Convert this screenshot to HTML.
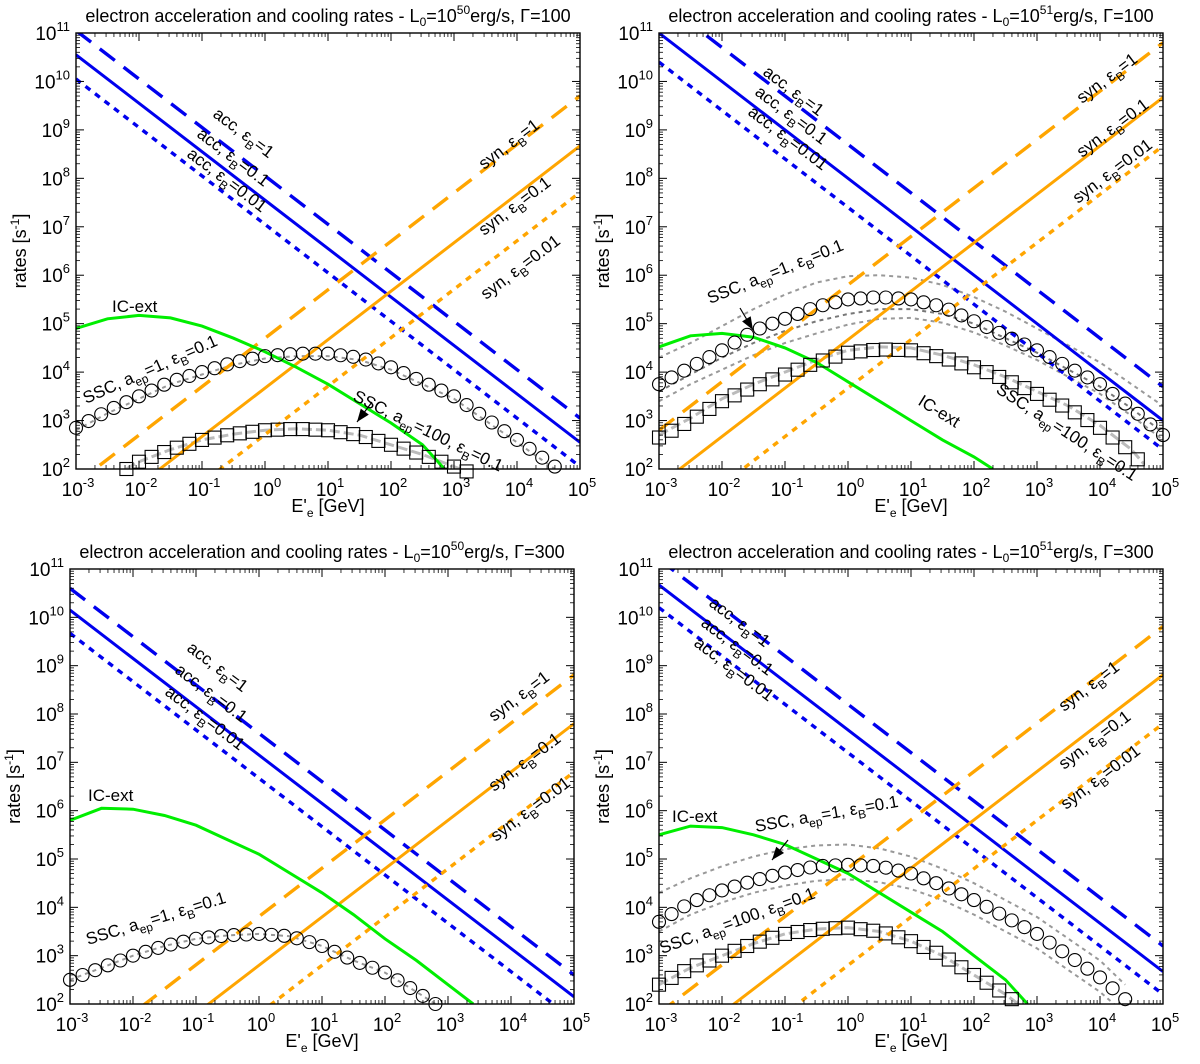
<!DOCTYPE html>
<html><head><meta charset="utf-8"><style>
body{margin:0;background:#fff;overflow:hidden}
svg{display:block;font-family:"Liberation Sans",sans-serif}
</style></head><body>
<svg id="fig" width="1200" height="1064" viewBox="0 0 1200 1064" xmlns="http://www.w3.org/2000/svg"></svg>
<script>
// ---------- DATA (log10 values) ----------
const xTickExps = [-3,-2,-1,0,1,2,3,4,5];
const yTickExps = [2,3,4,5,6,7,8,9,10,11];
// acceleration lines: log10 rate at E=1e-3 and E=1e5 GeV [eB=1, 0.1, 0.01]
const A_accLo=[11.05,10.55,10.05], A_accHi=[3.05,2.55,2.05];
const B_accLo=[11.7,11.0,10.4],  B_accHi=[3.7,3.0,2.4];
const C_accLo=[10.6,10.15,9.67], C_accHi=[2.6,2.15,1.67];
const D_accLo=[11.2,10.67,10.2], D_accHi=[3.2,2.67,2.2];
// synchrotron lines
const A_synLo=[1.7,0.67,-0.29], A_synHi=[9.7,8.67,7.71];
const B_synLo=[2.8,1.67,0.67],  B_synHi=[10.8,9.67,8.67];
const C_synLo=[0.81,-0.2,-1.2], C_synHi=[8.81,7.8,6.8];
const D_synLo=[1.81,0.81,-0.2], D_synHi=[9.81,8.81,7.8];
// IC-ext curves
const A_icE=[-3,-2.5,-2,-1.5,-1,-0.5,0,0.5,1,1.5,2,2.5,2.85];
const A_icR=[4.9,5.1,5.17,5.12,4.95,4.7,4.42,4.1,3.75,3.35,2.95,2.5,2.0];
const B_icE=[-3,-2.5,-2,-1.5,-1,-0.5,0,0.5,1,1.5,2,2.3];
const B_icR=[4.52,4.75,4.8,4.72,4.5,4.2,3.8,3.4,3.0,2.6,2.25,2.0];
const C_icE=[-3,-2.5,-2,-1.5,-1,-0.5,0,0.5,1,1.5,2,2.5,3,3.4];
const C_icR=[5.8,6.05,6.03,5.9,5.7,5.4,5.1,4.7,4.3,3.85,3.35,2.9,2.4,2.0];
const D_icE=[-3,-2.5,-2,-1.5,-1,-0.5,0,0.5,1,1.5,2,2.5,2.85];
const D_icR=[5.5,5.68,5.65,5.5,5.3,5.0,4.7,4.3,3.9,3.5,3.0,2.5,2.0];
// SSC a_ep=1 (circles)
const A_c1E=[-3,-2.5,-2,-1.5,-1,-0.5,0,0.5,1,1.5,2,2.5,3,3.5,4,4.6];
const A_c1R=[2.85,3.2,3.5,3.8,4.0,4.2,4.33,4.38,4.38,4.3,4.1,3.8,3.5,3.05,2.6,2.05];
const B_c1E=[-3,-2.5,-2,-1.5,-1,-0.5,0,0.5,1,1.5,2,2.5,3,3.5,4,4.5,5];
const B_c1R=[3.75,4.1,4.45,4.85,5.1,5.35,5.5,5.55,5.5,5.35,5.05,4.75,4.45,4.1,3.75,3.25,2.7];
const C_c1E=[-3,-2.5,-2,-1.5,-1,-0.5,0,0.5,1,1.5,2,2.5,2.8];
const C_c1R=[2.5,2.75,3.0,3.2,3.35,3.42,3.45,3.4,3.2,2.9,2.65,2.25,2.0];
const D_c1E=[-3,-2.5,-2,-1.5,-1,-0.5,0,0.5,1,1.5,2,2.5,3,3.5,4,4.4];
const D_c1R=[3.7,4.1,4.35,4.55,4.72,4.85,4.88,4.85,4.7,4.45,4.15,3.8,3.45,3.0,2.55,2.1];
// SSC a_ep=100 (squares)
const A_c2E=[-2.2,-2,-1.5,-1,-0.5,0,0.5,1,1.5,2,2.5,3,3.3];
const A_c2R=[2.0,2.15,2.4,2.6,2.72,2.8,2.83,2.8,2.7,2.5,2.3,2.05,1.9];
const B_c2E=[-3,-2.5,-2,-1.5,-1,-0.5,0,0.5,1,1.5,2,2.5,3,3.5,4,4.5,4.7];
const B_c2R=[2.65,3.0,3.4,3.7,3.95,4.2,4.4,4.47,4.45,4.3,4.1,3.85,3.55,3.25,2.85,2.35,2.05];
const D_c2E=[-3,-2.5,-2,-1.5,-1,-0.5,0,0.5,1,1.5,2,2.5,2.7];
const D_c2R=[2.4,2.75,3.0,3.25,3.45,3.55,3.58,3.5,3.3,3.0,2.6,2.2,2.0];
// gray dotted model curves
const B_g1R=[4.3,4.6,4.95,5.3,5.6,5.85,5.98,6.0,5.95,5.8,5.55,5.25,4.9,4.55,4.2,3.75,3.3];
const B_g2R=[3.6,3.95,4.3,4.6,4.85,5.05,5.2,5.3,5.3,5.2,5.0,4.7,4.4,4.05,3.7,3.25,2.75];
const B_g3R=[3.4,3.75,4.05,4.35,4.6,4.8,4.98,5.1,5.12,5.02,4.82,4.55,4.25,3.9,3.55,3.1,2.6];
const D_g1R=[4.3,4.6,4.85,5.05,5.2,5.28,5.3,5.22,5.05,4.8,4.5,4.15,3.8,3.35,2.9,2.4];
const D_g2R=[3.5,3.85,4.1,4.3,4.45,4.55,4.58,4.52,4.38,4.15,3.85,3.5,3.15,2.7,2.25,1.8];

// ---------- DRAWING ----------
const NS="http://www.w3.org/2000/svg";
const svg=document.getElementById('fig');
function el(tag,attrs,parent){const e=document.createElementNS(NS,tag);for(const k in attrs)e.setAttribute(k,attrs[k]);(parent||svg).appendChild(e);return e;}
const BLUE="#0000ee",ORANGE="#ffa500",GREEN="#00ee00";
const STY=[{w:3.4,d:"19,11"},{w:3,d:""},{w:3.4,d:"6,6"}];

function makePanel(id,L,R,T,B,title){
  const g=el('g',{});
  
  
  const sx=v=>L+(v+3)/8*(R-L);
  const sy=v=>B-(v-2)/9*(B-T);
  const clip=el('clipPath',{id:'clip-'+id},g);
  el('rect',{x:L,y:T,width:R-L,height:B-T},clip);
  const plot=el('g',{'clip-path':'url(#clip-'+id+')'},g);
  const t=el('text',{x:(L+R)/2,y:T-11,'text-anchor':'middle','font-size':18,fill:'#000'},g);
  t.innerHTML=title;
  
  
  return {g,plot,sx,sy,L,R,T,B};
}
function axes(p){
  const {g,sx,sy,L,R,T,B}=p;
  el('rect',{x:L,y:T,width:R-L,height:B-T,fill:'none',stroke:'#000','stroke-width':1.4},g);
  xTickExps.forEach((e,i)=>{
    const x=sx(e);
    el('line',{x1:x,y1:B,x2:x,y2:B-8,stroke:'#000','stroke-width':1},g);
    el('line',{x1:x,y1:T,x2:x,y2:T+8,stroke:'#000','stroke-width':1},g);
    if(i<xTickExps.length-1)for(let m=2;m<10;m++){const xm=sx(e+Math.log10(m));
      el('line',{x1:xm,y1:B,x2:xm,y2:B-4,stroke:'#000','stroke-width':0.8},g);
      el('line',{x1:xm,y1:T,x2:xm,y2:T+4,stroke:'#000','stroke-width':0.8},g);}
    const lab=el('text',{x:x+2,y:B+27,'text-anchor':'middle','font-size':19},g);
    lab.innerHTML='10<tspan dy="-9" font-size="13">'+e+'</tspan>';
    
    
  });
  yTickExps.forEach((e,i)=>{
    const y=sy(e);
    el('line',{x1:L,y1:y,x2:L+8,y2:y,stroke:'#000','stroke-width':1},g);
    el('line',{x1:R,y1:y,x2:R-8,y2:y,stroke:'#000','stroke-width':1},g);
    if(i<yTickExps.length-1)for(let m=2;m<10;m++){const ym=sy(e+Math.log10(m));
      el('line',{x1:L,y1:ym,x2:L+4,y2:ym,stroke:'#000','stroke-width':0.8},g);
      el('line',{x1:R,y1:ym,x2:R-4,y2:ym,stroke:'#000','stroke-width':0.8},g);}
    const lab=el('text',{x:L-6,y:y+7,'text-anchor':'end','font-size':19},g);
    lab.innerHTML='10<tspan dy="-9" font-size="13">'+e+'</tspan>';
    
    
  });
  const xl=el('text',{x:(L+R)/2,y:B+43,'text-anchor':'middle','font-size':18},g);
  xl.innerHTML="E'<tspan dy='5' font-size='12'>e</tspan><tspan dy='-5'> [GeV]</tspan>";
  
  
  const cy=(T+B)/2, cx=L-50;
  const yl=el('text',{x:cx,y:cy,'text-anchor':'middle','font-size':18,transform:'rotate(-90 '+cx+' '+cy+')'},g);
  yl.innerHTML="rates [s<tspan dy='-7' font-size='12'>-1</tspan><tspan dy='7'>]</tspan>";
  
  
}
function powerLines(p,lo,hi,color,name){
  lo.forEach((v,i)=>{
    const ln=el('line',{x1:p.sx(-3),y1:p.sy(v),x2:p.sx(5),y2:p.sy(hi[i]),stroke:color,'stroke-width':STY[i].w,'stroke-dasharray':STY[i].d},p.plot);
    
    
  });
}
function curve(p,xs,ys,attrs,name){
  const d=xs.map((x,i)=>(i?'L':'M')+p.sx(x).toFixed(1)+','+p.sy(ys[i]).toFixed(1)).join('');
  const a=Object.assign({d:d,fill:'none'},attrs);
  const c=el('path',a,p.plot);
  
  
}
function interp(xs,ys,x){for(let i=0;i<xs.length-1;i++){if(x>=xs[i]-1e-9&&x<=xs[i+1]+1e-9){const f=(x-xs[i])/(xs[i+1]-xs[i]);return ys[i]+f*(ys[i+1]-ys[i]);}}return null;}
function markers(p,xs,ys,shape,name){
  for(let k=0;k<=45;k++){const x=-3+k*0.2; if(x<xs[0]-1e-9||x>xs[xs.length-1]+1e-9)continue;
    const y=interp(xs,ys,x); const X=p.sx(x),Y=p.sy(y);
    let m;
    if(shape==='o'){m=el('circle',{cx:X,cy:Y,r:6.5,fill:'none',stroke:'#000','stroke-width':1.1},p.g);}
    else{m=el('rect',{x:X-6.5,y:Y-6.5,width:13,height:13,fill:'none',stroke:'#000','stroke-width':1.1},p.g);}
    
    
  }
}
function label(p,x,y,rot,html,name){
  const t=el('text',{x:x,y:y,'font-size':17,transform:'rotate('+rot+' '+x+' '+y+')'},p.g);
  t.innerHTML=html;
  
  
}
function arrow(p,x1,y1,x2,y2){
  const a=el('line',{x1:x1,y1:y1,x2:x2,y2:y2,stroke:'#000','stroke-width':1.2},p.g);
  
  
  const ang=Math.atan2(y2-y1,x2-x1),L=13,W=5;
  const bx=x2-L*Math.cos(ang),by=y2-L*Math.sin(ang);
  const px=-Math.sin(ang)*W,py=Math.cos(ang)*W;
  el('polygon',{points:`${x2},${y2} ${bx+px},${by+py} ${bx-px},${by-py}`,fill:'#000'},p.g);
}
const eB=v=>`, ε<tspan dy="5" font-size="12">B</tspan><tspan dy="-5">=${v}</tspan>`;
const accL=v=>'acc'+eB(v), synL=v=>'syn'+eB(v);
const sscL=(a,v)=>`SSC, a<tspan dy="5" font-size="12">ep</tspan><tspan dy="-5">=${a}</tspan>, ε<tspan dy="5" font-size="12">B</tspan><tspan dy="-5">=${v}</tspan>`;
const G1={stroke:'#999','stroke-width':2,'stroke-dasharray':'4,4'};
const G2={stroke:'#777','stroke-width':2,'stroke-dasharray':'4,4'};
const GS={stroke:'#bbb','stroke-width':3,'stroke-dasharray':'10,4'};
const title=(L,G)=>`electron acceleration and cooling rates - L<tspan dy="4" font-size="12">0</tspan><tspan dy="-4">=10</tspan><tspan dy="-8" font-size="12">${L}</tspan><tspan dy="8">erg/s, Γ=${G}</tspan>`;

// Panel A
let p=makePanel('panel-l50-g100',76,580,33,469,title(50,100));
curve(p,A_c1E,A_c1R.map(v=>v-0.05),G1,'ssc-model-curve');
curve(p,A_c2E,A_c2R,GS,'ssc-model-curve');
powerLines(p,A_accLo,A_accHi,BLUE,'acc');
powerLines(p,A_synLo,A_synHi,ORANGE,'syn');
curve(p,A_icE,A_icR,{stroke:GREEN,'stroke-width':3},'ic-ext-curve');
markers(p,A_c1E,A_c1R,'o','ssc-aep1-marker');
markers(p,A_c2E,A_c2R,'s','ssc-aep100-marker');
axes(p);
label(p,212,116,37,accL(1),'label-acc');label(p,196,136,37,accL(0.1),'label-acc');label(p,186,156,37,accL(0.01),'label-acc');
label(p,484,170,-37,synL(1),'label-syn');label(p,484,236,-37,synL(0.1),'label-syn');label(p,486,300,-37,synL(0.01),'label-syn');
label(p,112,312,0,'IC-ext','label-ic-ext');
label(p,86,404,-24,sscL(1,0.1),'label-ssc');
label(p,352,400,26,sscL(100,0.1),'label-ssc');arrow(p,372,402,357,422);

// Panel B
p=makePanel('panel-l51-g100',659,1163,33,469,title(51,100));
curve(p,B_c1E,B_g1R,G1,'ssc-model-curve');curve(p,B_c1E,B_g2R,G2,'ssc-model-curve');curve(p,B_c1E,B_g3R,G1,'ssc-model-curve');
curve(p,B_c2E,B_c2R.map(v=>v+0.05),GS,'ssc-model-curve');
powerLines(p,B_accLo,B_accHi,BLUE,'acc');
powerLines(p,B_synLo,B_synHi,ORANGE,'syn');
curve(p,B_icE,B_icR,{stroke:GREEN,'stroke-width':3},'ic-ext-curve');
markers(p,B_c1E,B_c1R,'o','ssc-aep1-marker');
markers(p,B_c2E,B_c2R,'s','ssc-aep100-marker');
axes(p);
label(p,762,74,37,accL(1),'label-acc');label(p,754,94,37,accL(0.1),'label-acc');label(p,747,114,37,accL(0.01),'label-acc');
label(p,1082,104,-37,synL(1),'label-syn');label(p,1082,158,-37,synL(0.1),'label-syn');label(p,1078,204,-37,synL(0.01),'label-syn');
label(p,710,304,-22,sscL(1,0.1),'label-ssc');arrow(p,740,308,753,330);
label(p,917,404,32,'IC-ext','label-ic-ext');
label(p,995,392,33,sscL(100,0.1),'label-ssc');

// Panel C
p=makePanel('panel-l50-g300',70,574,569,1004,title(50,300));
curve(p,C_c1E,C_c1R,G1,'ssc-model-curve');
powerLines(p,C_accLo,C_accHi,BLUE,'acc');
powerLines(p,C_synLo,C_synHi,ORANGE,'syn');
curve(p,C_icE,C_icR,{stroke:GREEN,'stroke-width':3},'ic-ext-curve');
markers(p,C_c1E,C_c1R,'o','ssc-aep1-marker');
axes(p);
label(p,186,650,37,accL(1),'label-acc');label(p,174,672,37,accL(0.1),'label-acc');label(p,164,694,37,accL(0.01),'label-acc');
label(p,494,722,-37,synL(1),'label-syn');label(p,494,792,-37,synL(0.1),'label-syn');label(p,496,842,-37,synL(0.01),'label-syn');
label(p,88,801,0,'IC-ext','label-ic-ext');
label(p,88,945,-17,sscL(1,0.1),'label-ssc');

// Panel D
p=makePanel('panel-l51-g300',659,1163,569,1004,title(51,300));
curve(p,D_c1E,D_g1R,G1,'ssc-model-curve');curve(p,D_c1E,D_g2R,G1,'ssc-model-curve');
curve(p,D_c2E,D_c2R,GS,'ssc-model-curve');
powerLines(p,D_accLo,D_accHi,BLUE,'acc');
powerLines(p,D_synLo,D_synHi,ORANGE,'syn');
curve(p,D_icE,D_icR,{stroke:GREEN,'stroke-width':3},'ic-ext-curve');
markers(p,D_c1E,D_c1R,'o','ssc-aep1-marker');
markers(p,D_c2E,D_c2R,'s','ssc-aep100-marker');
axes(p);
label(p,708,605,37,accL(1),'label-acc');label(p,700,625,37,accL(0.1),'label-acc');label(p,693,645,37,accL(0.01),'label-acc');
label(p,1064,712,-37,synL(1),'label-syn');label(p,1064,770,-37,synL(0.1),'label-syn');label(p,1066,810,-37,synL(0.01),'label-syn');
label(p,672,822,0,'IC-ext','label-ic-ext');
label(p,756,832,-10,sscL(1,0.1),'label-ssc');arrow(p,788,840,772,860);
label(p,662,954,-20,sscL(100,0.1),'label-ssc');
</script>
</body></html>
